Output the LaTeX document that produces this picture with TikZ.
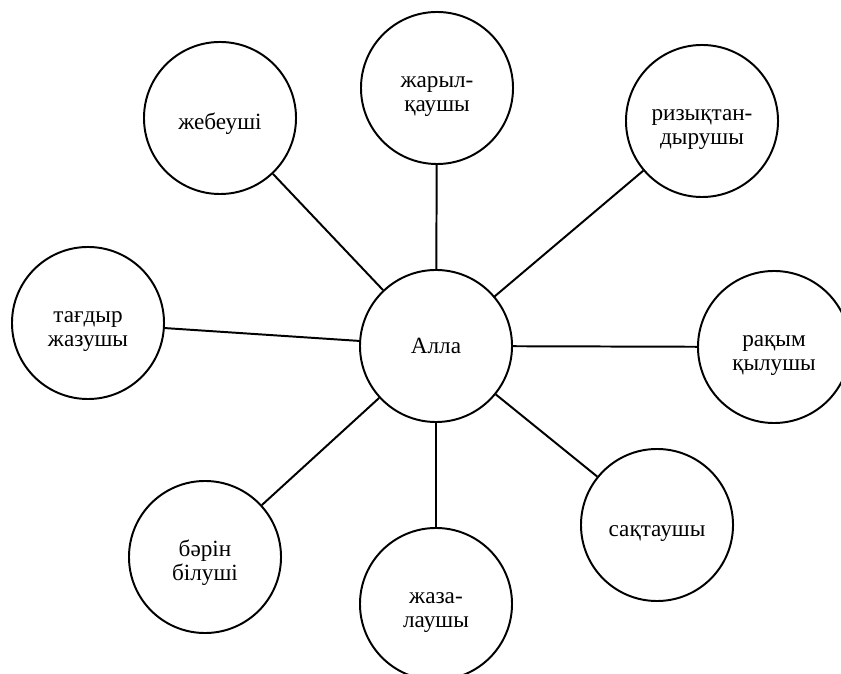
\documentclass[tikz,border=0pt]{standalone}
\usepackage{fontspec}
\setmainfont{Liberation Serif}
% spazio sopra la prima riga
\newcommand{\alza}{\rule{0pt}{20pt}}
\begin{document}
\begin{tikzpicture}[x=0.025cm, y=-0.025cm,
        cerchio/.style={draw, circle, line width=1.4pt, minimum size=3.8cm, inner sep=0pt, align=center, font=\fontsize{16.5}{17}\selectfont},
        linea/.style={line width=1.4pt}]
            % Area del disegno
            \useasboundingbox (0,0) rectangle (841,674);
            \clip (0,0) rectangle (841,674);

            % Disegna i cerchi
            \node[cerchio] (alla) at (436,346) {Алла};
            \node[cerchio] (zhebeushi) at (220,118) {\alza жебеуші};
            \node[cerchio] (zharylqaushy) at (437,88) {\alza жарыл-\\қаушы};
            \node[cerchio] (rizyqtandyrushy) at (702,121) {\alza ризықтан-\\дырушы};
            \node[cerchio] (raqym) at (774,347) {\alza рақым\\қылушы};
            \node[cerchio] (saqtaushy) at (657,525) {\alza сақтаушы};
            \node[cerchio] (zhazalaushy) at (436,604) {\alza жаза-\\лаушы};
            \node[cerchio] (barin) at (205,557) {\alza бәрін\\білуші};
            \node[cerchio] (taghdyr) at (88,323) {\alza тағдыр\\жазушы};

            % Collega i cerchi al centro
            \draw[linea] (alla) -- (zhebeushi);
            \draw[linea] (alla) -- (zharylqaushy);
            \draw[linea] (alla) -- (rizyqtandyrushy);
            \draw[linea] (alla) -- (raqym);
            \draw[linea] (alla) -- (saqtaushy);
            \draw[linea] (alla) -- (zhazalaushy);
            \draw[linea] (alla) -- (barin);
            \draw[linea] (alla) -- (taghdyr);
\end{tikzpicture}
\end{document}
